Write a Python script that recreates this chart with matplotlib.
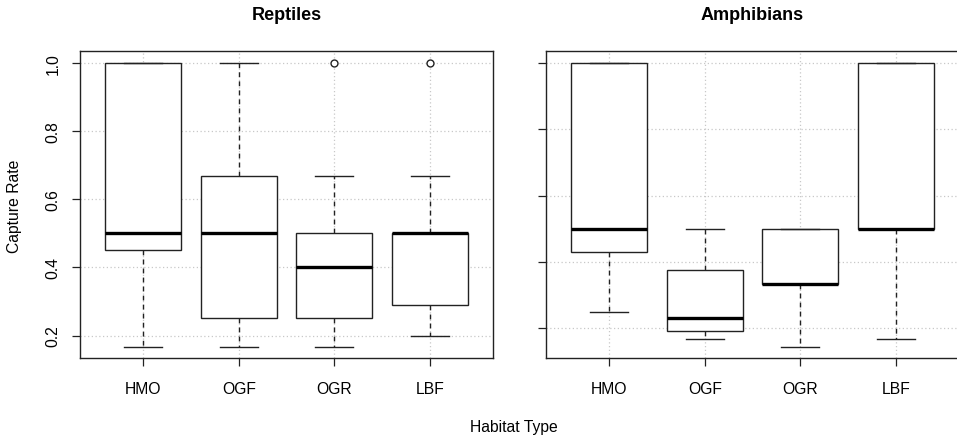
import matplotlib
matplotlib.use("Agg")
import matplotlib.pyplot as plt

# Habitat categories
habitats = ["HMO", "OGF", "OGR", "LBF"]

# Reptiles: five-number summaries
rep_whislo = [0.167, 0.167, 0.167, 0.20]
rep_q1 = [0.45, 0.25, 0.25, 0.29]
rep_med = [0.50, 0.50, 0.40, 0.50]
rep_q3 = [1.00, 0.667, 0.50, 0.50]
rep_whishi = [1.00, 1.00, 0.667, 0.667]
rep_fliers = [[], [], [1.0], [1.0]]

# Amphibians
amp_whislo = [0.247, 0.167, 0.142, 0.167]
amp_q1 = [0.43, 0.19, 0.333, 0.50]
amp_med = [0.50, 0.23, 0.333, 0.50]
amp_q3 = [1.00, 0.375, 0.50, 1.00]
amp_whishi = [1.00, 0.50, 0.50, 1.00]
amp_fliers = [[], [], [], []]

yticks = [0.2, 0.4, 0.6, 0.8, 1.0]

W, H = 957, 439
fig = plt.figure(figsize=(W / 100, H / 100), dpi=100)
plt.rcParams['font.family'] = ['Liberation Sans', 'DejaVu Sans']

ax1 = fig.add_axes([80 / W, (H - 359.3) / H, 413 / W, 307 / H])
ax2 = fig.add_axes([546 / W, (H - 359.3) / H, 413 / W, 307 / H])


def make_stats(lo, q1, med, q3, hi, fl):
    stats = []
    for i in range(len(lo)):
        stats.append({"whislo": lo[i], "q1": q1[i], "med": med[i],
                      "q3": q3[i], "whishi": hi[i], "fliers": fl[i]})
    return stats


def draw_panel(ax, stats, title, ylim, show_labels):
    pos = list(range(1, len(habitats) + 1))
    for p in pos:
        ax.axvline(p, color="#c8c8c8", linestyle=(0, (1, 2)), linewidth=0.9, zorder=0)
    for t in yticks:
        ax.axhline(t, color="#c8c8c8", linestyle=(0, (1, 2)), linewidth=0.9, zorder=0)
    ax.bxp(stats, positions=pos, widths=0.8, capwidths=0.4, patch_artist=True,
           boxprops=dict(facecolor="white", edgecolor="#222222", linewidth=1.0),
           medianprops=dict(color="black", linewidth=2.4, solid_capstyle="butt"),
           whiskerprops=dict(color="#222222", linewidth=1.0, linestyle=(0, (3.5, 3))),
           capprops=dict(color="#222222", linewidth=1.0),
           flierprops=dict(marker="o", markersize=5, markerfacecolor="white",
                           markeredgecolor="#222222", markeredgewidth=1.0),
           zorder=2)
    ax.set_xlim(0.337, 4.663)
    ax.set_ylim(*ylim)
    ax.set_xticks(pos)
    ax.set_xticklabels(habitats, fontsize=11.3)
    ax.set_yticks(yticks)
    if show_labels:
        ax.set_yticklabels(["%.1f" % t for t in yticks], fontsize=11.3,
                           rotation=90, va="center")
    else:
        ax.set_yticklabels([])
    ax.tick_params(direction="out", length=6, width=0.9, color="#222222")
    ax.tick_params(axis="x", pad=10)
    ax.tick_params(axis="y", pad=8)
    for s in ax.spines.values():
        s.set_linewidth(1.0)
        s.set_color("#222222")
    bb = ax.get_position()
    fig.text((bb.x0 + bb.x1) / 2, (H - 16) / H, title, fontsize=13, fontweight="bold",
             ha="center", va="center")


draw_panel(ax1, make_stats(rep_whislo, rep_q1, rep_med, rep_q3, rep_whishi, rep_fliers),
           "Reptiles", (0.1333, 1.0333), True)
draw_panel(ax2, make_stats(amp_whislo, amp_q1, amp_med, amp_q3, amp_whishi, amp_fliers),
           "Amphibians", (0.108, 1.036), False)

fig.text(15 / W, (H - 206) / H, "Capture Rate", rotation=90, fontsize=11.3,
         ha="center", va="center")
fig.text(514 / W, (H - 428) / H, "Habitat Type", fontsize=11.3,
         ha="center", va="center")

fig.savefig("out.png", dpi=100)
